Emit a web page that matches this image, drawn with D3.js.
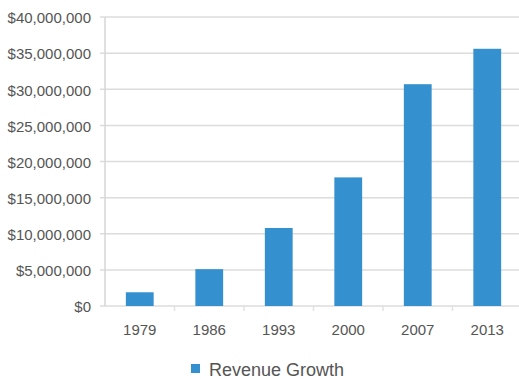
<!DOCTYPE html>
<html><head><meta charset="utf-8">
<script src="https://cdn.jsdelivr.net/npm/d3@7"></script>
<style>body{margin:0;background:#fff;} svg{display:block;font-family:"Liberation Sans",Arial,sans-serif;}</style>
</head><body><svg id="c" width="519" height="379"></svg>
<script>
const years = ["1979","1986","1993","2000","2007","2013"];
const revenue = [1900000, 5100000, 10800000, 17800000, 30700000, 35600000];
const yTicks = [0,5000000,10000000,15000000,20000000,25000000,30000000,35000000,40000000];
const seriesName = "Revenue Growth";

const svg = d3.select("#c");
const x = d3.scaleBand().domain(years).range([105, 522]).paddingInner(0).paddingOuter(0);
const y = d3.scaleLinear().domain([0, 40000000]).range([306, 17]);
const fmt = v => "$" + d3.format(",")(v);

// gridlines
svg.append("g").selectAll("line").data(yTicks).join("line")
  .attr("x1", 100).attr("x2", 519)
  .attr("y1", d => y(d)).attr("y2", d => y(d))
  .attr("stroke", "#dcdcdc").attr("stroke-width", 1.5);

// y axis line
svg.append("line").attr("x1",105).attr("x2",105).attr("y1",y(40000000)).attr("y2",y(0))
  .attr("stroke","#d6d6d6").attr("stroke-width",1.5);

// y labels
svg.append("g").selectAll("text").data(yTicks).join("text")
  .attr("x", 91).attr("y", d => y(d) + 1).attr("dy","0.35em")
  .attr("text-anchor","end").attr("font-size",15).attr("fill","#555")
  .text(fmt);

// x ticks at boundaries
svg.append("g").selectAll("line").data(years.slice(1)).join("line")
  .attr("x1", d => x(d)).attr("x2", d => x(d)).attr("y1", 306).attr("y2", 311)
  .attr("stroke","#e2e2e2").attr("stroke-width",1.5);

// bars
const bw = x.bandwidth()*0.4;
svg.append("g").selectAll("rect").data(years).join("rect")
  .attr("x", (d) => x(d) + x.bandwidth()/2 - bw/2)
  .attr("width", bw)
  .attr("y", (d,i) => y(revenue[i]))
  .attr("height", (d,i) => y(0) - y(revenue[i]))
  .attr("fill", "#3590cf");

// x labels
svg.append("g").selectAll("text").data(years).join("text")
  .attr("x", d => x(d) + x.bandwidth()/2).attr("y", 335)
  .attr("text-anchor","middle").attr("font-size",15).attr("fill","#555")
  .text(d => d);

// legend
const lg = svg.append("g");
lg.append("rect").attr("x",191).attr("y",364).attr("width",9).attr("height",9).attr("fill","#3590cf");
lg.append("text").attr("x",209).attr("y",376).attr("font-size",18).attr("fill","#555").text(seriesName);
</script></body></html>
